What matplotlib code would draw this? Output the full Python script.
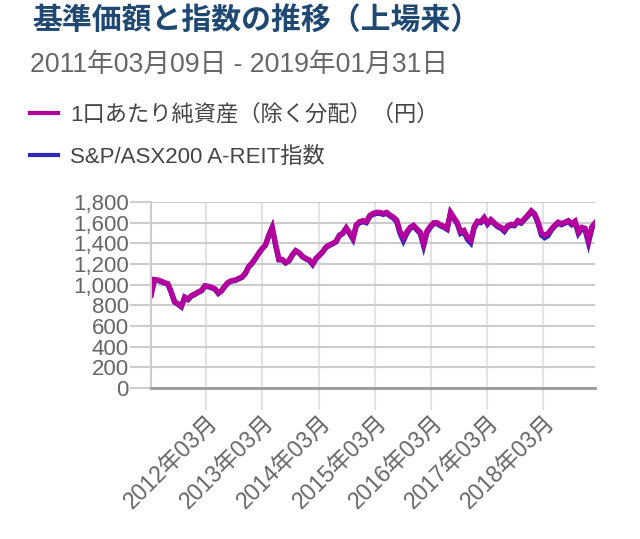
import matplotlib
matplotlib.use('Agg')
import matplotlib.pyplot as plt
import matplotlib.dates as mdates
import matplotlib.ticker as mticker
import pandas as pd

plt.rcParams['font.family'] = ['Liberation Sans', 'Noto Sans CJK JP', 'DejaVu Sans']

title = '基準価額と指数の推移（上場来）'
subtitle = '2011年03月09日 - 2019年01月31日'
nav_label = '1口あたり純資産（除く分配）（円）'
idx_label = 'S&P/ASX200 A-REIT指数'

start_date = '2011-03-09'
end_date = '2019-01-31'

# values at evenly spaced points between start and end
nav = [900, 1050, 1045, 1035, 1020, 1010, 930, 835, 815, 790,
       880, 860, 895, 910, 930, 945, 990, 985, 975, 960,
       920, 945, 990, 1025, 1040, 1045, 1060, 1075, 1110, 1175,
       1210, 1255, 1305, 1350, 1385, 1480, 1555, 1390, 1245, 1245,
       1215, 1235, 1290, 1330, 1310, 1275, 1255, 1240, 1200, 1255,
       1285, 1320, 1365, 1385, 1400, 1420, 1480, 1500, 1550, 1500,
       1450, 1580, 1610, 1620, 1610, 1670, 1690, 1700, 1700, 1690,
       1700, 1675, 1655, 1625, 1515, 1455, 1510, 1555, 1575, 1540,
       1510, 1400, 1520, 1565, 1600, 1600, 1580, 1565, 1545, 1700,
       1650, 1600, 1510, 1525, 1460, 1430, 1560, 1615, 1610, 1650,
       1595, 1630, 1600, 1570, 1555, 1530, 1570, 1585, 1580, 1620,
       1605, 1640, 1675, 1715, 1685, 1610, 1500, 1480, 1495, 1540,
       1575, 1605, 1590, 1605, 1620, 1590, 1615, 1510, 1555, 1545,
       1430, 1560, 1600]

index = [900, 1045, 1040, 1030, 1015, 1005, 925, 830, 810, 785,
         875, 855, 890, 905, 925, 940, 985, 980, 970, 955,
         915, 940, 985, 1020, 1035, 1040, 1055, 1070, 1105, 1170,
         1205, 1250, 1300, 1345, 1380, 1475, 1550, 1385, 1240, 1240,
         1210, 1230, 1285, 1325, 1305, 1270, 1250, 1235, 1195, 1250,
         1280, 1315, 1360, 1380, 1395, 1415, 1475, 1495, 1545, 1495,
         1440, 1570, 1600, 1610, 1600, 1660, 1680, 1690, 1690, 1680,
         1690, 1665, 1645, 1610, 1495, 1425, 1495, 1545, 1565, 1530,
         1495, 1375, 1505, 1555, 1590, 1590, 1570, 1555, 1535, 1690,
         1640, 1590, 1495, 1510, 1440, 1405, 1545, 1605, 1600, 1640,
         1585, 1620, 1590, 1560, 1545, 1515, 1560, 1575, 1570, 1610,
         1595, 1630, 1665, 1705, 1675, 1595, 1480, 1455, 1475, 1530,
         1565, 1595, 1580, 1595, 1610, 1580, 1605, 1495, 1540, 1530,
         1405, 1545, 1590]

dates = pd.date_range(start_date, end_date, periods=len(nav))

yticks = [0, 200, 400, 600, 800, 1000, 1200, 1400, 1600, 1800]
xtick_dates = pd.to_datetime(['2012-03-01', '2013-03-01', '2014-03-01', '2015-03-01',
                              '2016-03-01', '2017-03-01', '2018-03-01'])

fig = plt.figure(figsize=(6.4, 5.39), dpi=100)
ax = fig.add_axes([0.236, 0.2801, 0.694, 0.3451])

ax.plot(dates, index, color='#2b2bb8', lw=3.8, solid_joinstyle='miter')
ax.plot(dates, nav, color='#b4009c', lw=3.8, solid_joinstyle='miter')

ax.set_xlim(dates[0], dates[-1])
ax.set_ylim(0, 1800)
ax.set_yticks(yticks)
ax.yaxis.set_major_formatter(mticker.FuncFormatter(lambda v, p: f'{int(v):,}'))
ax.set_xticks(xtick_dates)
ax.xaxis.set_major_formatter(mdates.DateFormatter('%Y年%m月'))

ax.grid(axis='y', color='#cccccc', lw=1.5)
ax.grid(axis='x', color='#e3e3e3', lw=1.5)
ax.set_axisbelow(True)
for s in ['top', 'right']:
    ax.spines[s].set_visible(False)
ax.spines['left'].set_color('#cccccc')
ax.spines['left'].set_linewidth(1.5)
ax.spines['bottom'].set_color('#9a9a9a')
ax.spines['bottom'].set_linewidth(2)

ax.tick_params(axis='y', length=15, width=1.5, color='#cccccc', pad=1,
               labelsize=16, labelcolor='#666666')
ax.tick_params(axis='x', length=16, width=1.5, color='#e3e3e3', pad=0,
               labelsize=16.5, labelcolor='#666666')
for lab in ax.get_xticklabels():
    lab.set_rotation(45)
    lab.set_ha('right')
    lab.set_va('top')
    lab.set_rotation_mode('anchor')

fig.text(0.051, 0.963, title, fontsize=21.5, fontweight='bold', color='#1f4873',
         va='center', family=['Noto Sans CJK JP'])
fig.text(0.047, 0.880, subtitle, fontsize=19.2, color='#666666', va='center')

h1, = ax.plot([], [], color='#b4009c', lw=3)
h2, = ax.plot([], [], color='#2b2bb8', lw=3)
fig.legend([h1, h2], [nav_label, idx_label], loc='upper left',
           bbox_to_anchor=(0.047, 0.807), frameon=False, fontsize=16,
           borderpad=0, borderaxespad=0,
           handlelength=1.26, handletextpad=0.54, labelspacing=0.95,
           labelcolor='#444444')

fig.savefig('out.png', dpi=100)
